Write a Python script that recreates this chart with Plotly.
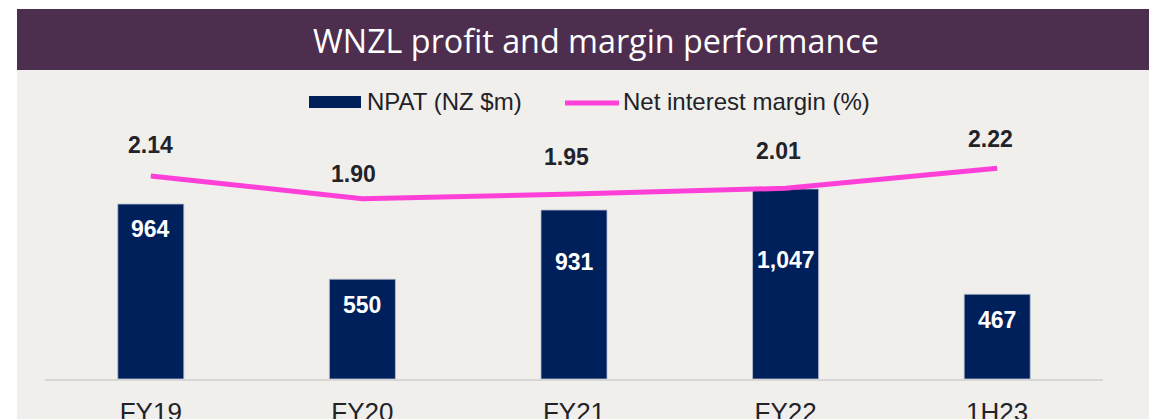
import plotly.graph_objects as go

# ---- data ----
categories = ["FY19", "FY20", "FY21", "FY22", "1H23"]
npat = [964, 550, 931, 1047, 467]
npat_labels = ["964", "550", "931", "1,047", "467"]
nim = [2.14, 1.90, 1.95, 2.01, 2.22]
nim_labels = ["2.14", "1.90", "1.95", "2.01", "2.22"]

# ---- layout / style ----
W, H = 1157, 419
OFF = 8  # page body margin offset of the screenshot
def px(x):
    return (x - OFF) / W
def py(y):
    return 1 - (y - OFF) / H

PURPLE = "#4D2E4F"
PANEL = "#F0EFEC"
NAVY = "#00205C"
MAGENTA = "#FF40D8"
DARK = "#222228"
FONT = "Liberation Sans, Arial, sans-serif"

plot_top, plot_bottom = 120, 379
R1 = (plot_bottom - plot_top) / 0.1815
R2 = (plot_bottom - plot_top) / 94.9

bar_label_drop = [25, 26, 52, 71, 26]
nim_label_rise = [31, 25, 37, 37, 29]
nim_label_xshift = [0, -9, -8, -7, -7]

fig = go.Figure()
fig.add_trace(go.Bar(
    x=categories, y=npat, name="NPAT (NZ $m)",
    marker=dict(color=NAVY, line=dict(color="#B8BECC", width=0.8)),
    showlegend=False, yaxis="y", hoverinfo="skip",
))
fig.add_trace(go.Scatter(
    x=categories, y=nim, name="Net interest margin (%)", mode="lines",
    line=dict(color=MAGENTA, width=5), yaxis="y2", showlegend=False,
    hoverinfo="skip",
))

annotations = []
for c, v, t, d in zip(categories, npat, npat_labels, bar_label_drop):
    annotations.append(dict(x=c, y=v, xref="x", yref="y", text=f"<b>{t}</b>",
                            showarrow=False, yshift=-d, yanchor="middle",
                            font=dict(family=FONT, size=23, color="white")))
for c, v, t, r, xs in zip(categories, nim, nim_labels, nim_label_rise, nim_label_xshift):
    annotations.append(dict(x=c, y=v, xref="x", yref="y2", text=f"<b>{t}</b>",
                            showarrow=False, yshift=r, xshift=xs, yanchor="middle",
                            font=dict(family=FONT, size=23, color=DARK)))

# title
annotations.append(dict(x=px(596), y=py(40), xref="paper", yref="paper",
                        text="WNZL profit and margin performance", showarrow=False,
                        xanchor="center", yanchor="middle",
                        font=dict(family="Open Sans, sans-serif", size=32.3, color="white")))
# manual legend text
annotations.append(dict(x=px(365), y=py(101), xref="paper", yref="paper",
                        text="NPAT (NZ $m)", showarrow=False, xanchor="left", yanchor="middle",
                        font=dict(family=FONT, size=24, color=DARK)))
annotations.append(dict(x=px(621), y=py(101), xref="paper", yref="paper",
                        text="Net interest margin (%)", showarrow=False, xanchor="left",
                        yanchor="middle", font=dict(family=FONT, size=24, color=DARK)))

shapes = [
    dict(type="rect", xref="paper", yref="paper", x0=px(17), x1=1, y0=0, y1=py(70),
         fillcolor=PANEL, line=dict(width=0), layer="below"),
    dict(type="rect", xref="paper", yref="paper", x0=px(17), x1=1, y0=py(70), y1=py(9),
         fillcolor=PURPLE, line=dict(width=0), layer="below"),
    dict(type="rect", xref="paper", yref="paper", x0=px(309), x1=px(361), y0=py(108), y1=py(96),
         fillcolor=NAVY, line=dict(width=0)),
    dict(type="line", xref="paper", yref="paper", x0=px(565), x1=px(619), y0=py(103), y1=py(103),
         line=dict(color=MAGENTA, width=5)),
]

fig.update_layout(
    template="none",
    width=W, height=H,
    margin=dict(l=0, r=0, t=0, b=0),
    paper_bgcolor="white",
    plot_bgcolor="rgba(0,0,0,0)",
    bargap=0.688,
    showlegend=False,
    xaxis=dict(domain=[px(45), px(1103)], type="category", range=[-0.5, 4.5],
               showline=True, linecolor="#D6D6D6", linewidth=2, showgrid=False,
               zeroline=False, ticks="outside", ticklen=9, tickcolor="rgba(0,0,0,0)",
               tickfont=dict(family=FONT, size=26, color=DARK), automargin=False,
               fixedrange=True),
    yaxis=dict(domain=[py(plot_bottom), py(plot_top)], range=[0, R1], visible=False,
               showgrid=False, zeroline=False, automargin=False),
    yaxis2=dict(domain=[py(plot_bottom), py(plot_top)], range=[0, R2], overlaying="y",
                visible=False, showgrid=False, zeroline=False, automargin=False),
    annotations=annotations,
    shapes=shapes,
)

fig.write_html("out.html")
